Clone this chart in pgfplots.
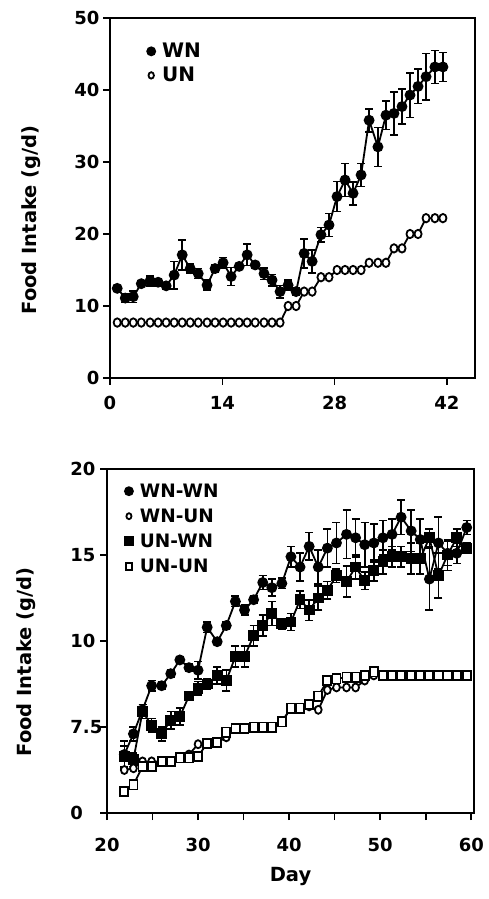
\documentclass[border=0pt]{standalone}
\usepackage{fontspec}
\setmainfont{DejaVu Sans}
\usepackage{pgfplots}
\usepackage{pgfplotstable}
\pgfplotsset{compat=1.18}

% top panel: x, WN mean, WN error, UN mean
\pgfplotstableread{
x    wn    ewn   un
0.9  12.45 0.4   7.7
1.9  11.1  0.6   7.7
2.9  11.3  0.8   7.7
3.9  13.1  0.4   7.7
5.0  13.5  0.7   7.7
6.0  13.3  0.5   7.7
7.0  12.8  0.4   7.7
8.0  14.3  1.9   7.7
9.0  17.1  2.1   7.7
10.0 15.2  0.6   7.7
11.0 14.5  0.7   7.7
12.1 12.9  0.7   7.7
13.1 15.2  0.5   7.7
14.1 16.0  0.75  7.7
15.1 14.1  1.25  7.7
16.1 15.5  0.4   7.7
17.1 17.1  1.5   7.7
18.1 15.7  0.5   7.7
19.2 14.5  0.8   7.7
20.2 13.6  0.8   7.7
21.2 12.0  0.85  7.7
22.2 12.9  0.7   10.0
23.2 12.0  0.5   10.0
24.2 17.3  2.0   12.0
25.2 16.2  1.6   12.0
26.3 19.9  1.0   14.0
27.3 21.25 1.6   14.0
28.3 25.2  2.1   15.0
29.3 27.5  2.3   15.0
30.3 25.65 1.6   15.0
31.3 28.2  1.6   15.0
32.3 35.8  1.6   16.0
33.4 32.1  2.7   16.0
34.4 36.5  2.0   16.0
35.4 36.75 3.0   18.0
36.4 37.7  2.4   18.0
37.4 39.3  3.1   20.0
38.4 40.5  2.4   20.0
39.4 41.85 3.2   22.2
40.5 43.2  2.3   22.2
41.5 43.2  2.0   22.2
}\topdata

% bottom panel: x, WN-WN, err, WN-UN, UN-WN, err, UN-UN
\pgfplotstableread{
x    ww    eww   wu    uw    euw   uu
21.9 3.4   0.8   2.5   3.3   0.6   1.24
22.9 4.6   0.4   2.6   3.1   0.4   1.63
23.9 6.0   0.3   3.0   5.9   0.4   2.7
24.9 7.4   0.3   3.0   5.1   0.4   2.7
26.0 7.4   0.2   3.0   4.6   0.4   3.0
27.0 8.1   0.2   3.0   5.4   0.5   3.0
28.0 8.9   0.1   3.2   5.6   0.5   3.2
29.0 8.45  0.2   3.4   6.8   0.2   3.2
30.0 8.3   0.5   4.0   7.25  0.4   3.3
31.0 10.8  0.3   4.05  7.5   0.3   4.05
32.1 9.96  0.15  4.1   8.0   0.5   4.1
33.1 10.9  0.2   4.4   7.7   0.6   4.7
34.1 12.3  0.3   4.9   9.1   0.6   4.9
35.1 11.8  0.3   4.9   9.1   0.6   4.9
36.1 12.4  0.2   5.0   10.3  0.6   5.0
37.1 13.4  0.4   5.0   10.9  0.6   5.0
38.1 13.1  0.5   5.0   11.6  0.7   5.0
39.2 13.35 0.3   5.3   11.0  0.3   5.3
40.2 14.9  0.6   6.1   11.1  0.5   6.1
41.2 14.3  0.8   6.1   12.4  0.5   6.1
42.2 15.5  0.8   6.2   11.8  0.6   6.3
43.2 14.3  1.0   6.0   12.5  0.7   6.8
44.2 15.4  1.1   7.15  12.95 0.5   7.7
45.2 15.7  1.2   7.3   13.8  0.4   7.8
46.3 16.2  1.4   7.3   13.45 0.9   7.9
47.3 16.0  1.1   7.3   14.3  0.7   7.9
48.3 15.6  1.3   7.7   13.5  0.5   8.0
49.3 15.7  1.1   8.0   14.1  0.6   8.2
50.3 16.0  1.0   8.0   14.6  0.7   8.0
51.3 16.2  0.9   8.0   14.9  0.6   8.0
52.3 17.2  1.0   8.0   14.9  0.6   8.0
53.4 16.4  1.2   8.0   14.8  0.9   8.0
54.4 15.9  1.2   8.0   14.8  0.9   8.0
55.4 13.6  1.8   8.0   16.0  0.5   8.0
56.4 15.7  1.5   8.0   13.8  1.3   8.0
57.4 15.1  0.7   8.0   15.0  0.9   8.0
58.4 15.1  0.6   8.0   16.0  0.5   8.0
59.5 16.6  0.4   8.0   15.4  0.3   8.0
}\botdata

\pgfplotsset{
  panel/.style={
    scale only axis,
    axis line style={line width=1.6pt},
    tick style={line width=1.6pt, black},
    tick align=outside, tick pos=left,
    major tick length=7pt, minor tick length=7pt,
    tick label style={font=\bfseries\fontsize{18}{20}\selectfont},
    /pgf/number format/assume math mode=true,
    label style={font=\bfseries\fontsize{19.5}{22}\selectfont},
    every axis plot/.append style={line width=1.8pt, black},
    legend style={draw=none, fill=none, anchor=north west,
      font=\bfseries\fontsize{18.5}{20}\selectfont, row sep=7pt,
      nodes={inner sep=1.5pt}},
    legend cell align=left,
    legend image code/.code={\draw[#1] plot coordinates {(0cm,0cm)};
      \path (-0.15cm,0cm) (0.3cm,0cm);},
  },
  ebar/.style={error bars/.cd, y dir=both, y explicit,
    error bar style={line width=1.6pt},
    error mark options={rotate=90, mark size=4pt, line width=1.6pt}},
}

\begin{document}
\begin{tikzpicture}
\useasboundingbox (0,0) rectangle (489pt,-899pt);

\begin{axis}[panel,
  at={(110pt,-18pt)}, anchor=north west,
  width=365pt, height=360pt,
  xmin=0, xmax=45.5, ymin=0, ymax=50,
  xtick={0,14,28,42}, ytick={0,10,...,50},
  xticklabel style={yshift=-8pt},
  ylabel={Food Intake (g/d)},
  ylabel style={at={(axis description cs:-0.216,0.439)}, anchor=center},
  legend style={at={(axis description cs:0.09,0.94)},
    font=\bfseries\fontsize{20}{22}\selectfont, row sep=5pt},
]
\addlegendimage{mark=*, mark size=4pt}
\addlegendentry{WN}
\addlegendimage{mark=*, mark size=3.2pt, mark options={fill=white, xscale=0.85}}
\addlegendentry{UN}
\addplot[forget plot, mark=*, mark size=4.2pt, mark options={fill=white, xscale=0.85}]
  table[x=x, y=un] {\topdata};
\addplot[forget plot, mark=*, mark size=4.5pt, ebar]
  table[x=x, y=wn, y error=ewn] {\topdata};
\end{axis}

\begin{axis}[panel,
  at={(107pt,-469pt)}, anchor=north west,
  width=367pt, height=344pt,
  xmin=20, xmax=60.3, ymin=0, ymax=20,
  xtick={20,30,...,60}, minor xtick={25,35,45,55},
  ytick={0,5,10,15,20}, yticklabels={0,7.5,10,15,20},
  yticklabel style={text width=26pt, align=left},
  xticklabel style={yshift=-15pt},
  xlabel={Day},
  xlabel style={at={(axis description cs:0.5,-0.186)}, anchor=center},
  ylabel={Food Intake (g/d)},
  ylabel style={at={(axis description cs:-0.221,0.439)}, anchor=center},
  legend style={at={(axis description cs:0.037,0.968)}},
]
\addlegendimage{mark=*, mark size=4pt}
\addlegendentry{WN-WN}
\addlegendimage{mark=*, mark size=3pt, mark options={fill=white, xscale=0.85}}
\addlegendentry{WN-UN}
\addlegendimage{mark=square*, mark size=4pt}
\addlegendentry{UN-WN}
\addlegendimage{mark=square*, mark size=3pt, mark options={fill=white, yscale=1.15}}
\addlegendentry{UN-UN}
\addplot[forget plot, mark=*, mark size=4pt, mark options={fill=white, xscale=0.85}]
  table[x=x, y=wu] {\botdata};
\addplot[forget plot, mark=square*, mark size=4pt, mark options={fill=white, yscale=1.15}]
  table[x=x, y=uu] {\botdata};
\addplot[forget plot, mark=square*, mark size=4.5pt, ebar]
  table[x=x, y=uw, y error=euw] {\botdata};
\addplot[forget plot, mark=*, mark size=4.5pt, ebar]
  table[x=x, y=ww, y error=eww] {\botdata};
\end{axis}
\end{tikzpicture}
\end{document}
